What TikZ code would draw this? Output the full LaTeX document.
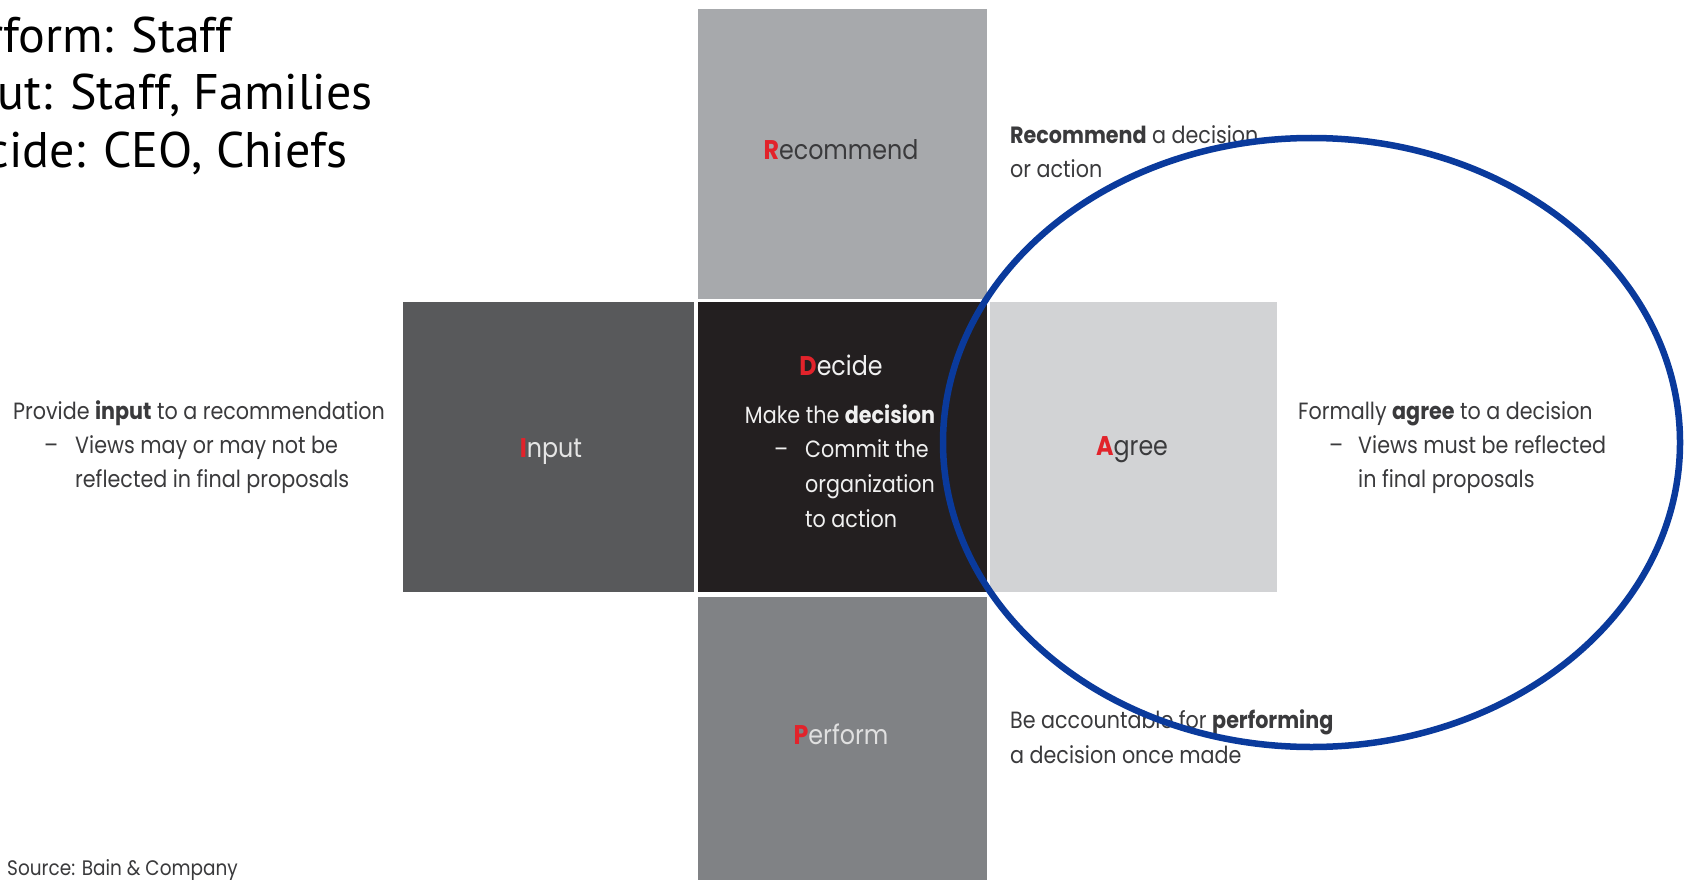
\documentclass[tikz,border=0pt]{standalone}
\usepackage{fontspec}
\setmainfont{PT Sans}
\newfontfamily\bain[FakeStretch=0.88]{Poppins}
\definecolor{recgray}{HTML}{A7A9AC}
\definecolor{inpgray}{HTML}{58595B}
\definecolor{decgray}{HTML}{231F20}
\definecolor{agrgray}{HTML}{D2D3D5}
\definecolor{pergray}{HTML}{808285}
\definecolor{bainred}{HTML}{E2232B}
\definecolor{txtgray}{HTML}{3A3A3C}
\definecolor{ringblue}{HTML}{0A3A9C}
\newcommand{\ini}[1]{\textcolor{bainred}{\textbf{#1}}}
\begin{document}
\begin{tikzpicture}[x=1pt,y=-1pt,
  box/.style={draw=none,inner sep=0,minimum width=289,minimum height=290},
  lbl/.style={inner sep=0,anchor=base,font=\bain\fontsize{27}{30}\selectfont},
  desc/.style={inner sep=0,anchor=base west,text=txtgray,font=\bain\fontsize{23.5}{27}\selectfont},
  roles/.style={inner sep=0,anchor=base east,text=black,font=\fontsize{50}{58}\selectfont},
  ring/.style={draw=ringblue,line width=6.5pt}]
\useasboundingbox (0,0) rectangle (1686,880);
\clip (0,0) rectangle (1686,880);
\fill[white] (0,0) rectangle (1686,880);

% boxes
\node[box,fill=recgray] (rec) at (842.5,154) {};
\node[box,fill=inpgray,minimum width=291] (inp) at (548.5,447) {};
\node[box,fill=decgray] (dec) at (842.5,447) {};
\node[box,fill=agrgray,minimum width=287] (agr) at (1133.5,447) {};
\node[box,fill=pergray,minimum height=288] (per) at (842.5,741) {};

% box labels
\node[lbl,text=txtgray] (reclbl) at (841,159) {\ini{R}ecommend};
\node[lbl,text=white!90!black] (inplbl) at (551,457) {\ini{I}nput};
\node[lbl,text=txtgray] (agrlbl) at (1132,455) {\ini{A}gree};
\node[lbl,text=white!88!black] (perlbl) at (841,744) {\ini{P}erform};
\node[lbl,text=white!94!black] (declbl) at (841,375) {\ini{D}ecide};

% decide description
\node[desc,anchor=base,text=white!94!black] (d1) at (840,423) {Make the \textbf{decision}};
\node[desc,text=white!94!black] (d2a) at (774,457) {\textendash};
\node[desc,text=white!94!black] (d2) at (805,457) {Commit the};
\node[desc,text=white!94!black] (d3) at (805,492) {organization};
\node[desc,text=white!94!black] (d4) at (805,527) {to action};

% left description
\node[desc] (l1) at (13,419) {Provide \textbf{input} to a recommendation};
\node[desc] (l2a) at (44,453) {\textendash};
\node[desc] (l2) at (75,453) {Views may or may not be};
\node[desc] (l3) at (75,487) {reflected in final proposals};

% right description
\node[desc] (r1) at (1298,419) {Formally \textbf{agree} to a decision};
\node[desc] (r2a) at (1329,453) {\textendash};
\node[desc] (r2) at (1358,453) {Views must be reflected};
\node[desc] (r3) at (1358,487) {in final proposals};

% recommend description
\node[desc] (t1) at (1010,143) {\textbf{Recommend} a decision};
\node[desc] (t2) at (1010,177) {or action};

% perform description
\node[desc] (b1) at (1010,728) {Be accountable for \textbf{performing}};
\node[desc] (b2) at (1010,763) {a decision once made};

% source
\node[desc,font=\bain\fontsize{21}{24}\selectfont] (src) at (7,875) {Source: Bain \& Company};

% roles (clipped at left)
\node[roles] (ro1) at (232,53) {Perform: Staff};
\node[roles] (ro2) at (373,110) {Input: Staff, Families};
\node[roles] (ro3) at (348,167) {Decide: CEO, Chiefs};

% ring
\draw[ring] (1311.5,442.5) ellipse [x radius=368.5, y radius=304.5];
\end{tikzpicture}
\end{document}
